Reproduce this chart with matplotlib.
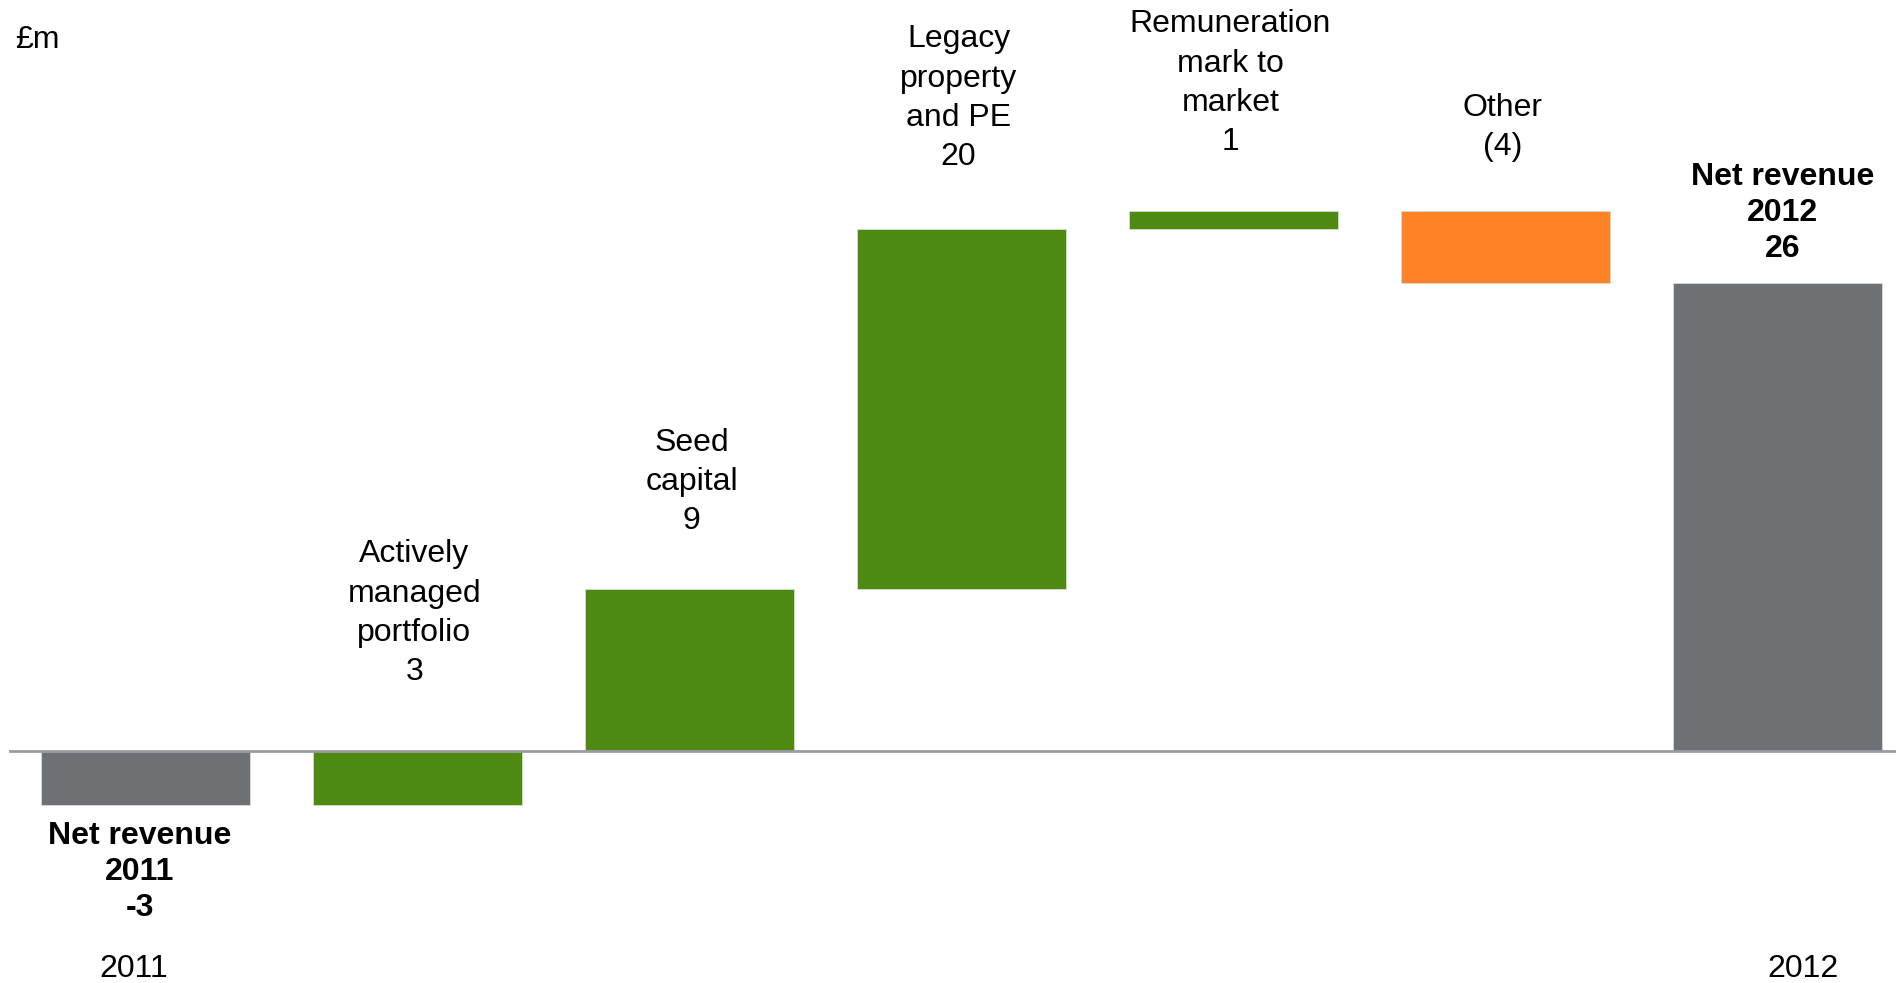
import matplotlib
matplotlib.use("Agg")
import matplotlib.pyplot as plt

plt.rcParams['font.family'] = ['Liberation Sans', 'DejaVu Sans']

# Waterfall data (£m)
categories = ["Net revenue\n2011", "Actively\nmanaged\nportfolio", "Seed\ncapital",
              "Legacy\nproperty\nand PE", "Remuneration\nmark to\nmarket", "Other",
              "Net revenue\n2012"]
values = [-3, 3, 9, 20, 1, -4, 26]
value_text = ["-3", "3", "9", "20", "1", "(4)", "26"]
kinds = ["total", "step", "step", "step", "step", "step", "total"]
period_labels = ["2011", "2012"]

GREY = "#6d7174"
GREEN = "#4e8a12"
ORANGE = "#ff8326"

W, H, DPI = 1896, 983, 100
fig = plt.figure(figsize=(W / DPI, H / DPI), dpi=DPI)
ax = fig.add_axes([0, 0, 1, 1])

# scale: bar pitch 272 px, 18 px per £m, zero line 751 px from top
x0_px, pitch = 145.5, 272.0
zero_px, unit = 751.0, 18.0
ax.set_xlim(-x0_px / pitch, (W - x0_px) / pitch)
ax.set_ylim(-(H - zero_px) / unit, zero_px / unit)
ax.axis("off")

bar_w = 0.77
running = 0
tops = []
for i, (v, k) in enumerate(zip(values, kinds)):
    if k == "total":
        bottom, height = 0, v
        color = GREY
        running = v
    else:
        bottom, height = running, v
        color = GREEN if v >= 0 else ORANGE
        running += v
    ax.bar(i, height, bottom=bottom, width=bar_w, color=color,
           edgecolor="#d8dbd6", linewidth=0.6, zorder=2)
    tops.append(max(bottom, bottom + height))

# zero baseline
ax.axhline(0, xmin=10 / W, xmax=1, color="#9b9ba8", linewidth=2, zorder=3)

# labels above/below bars (offset in px from the bar edge to the text block)
label_gap = [None, 64, 53, 57, 54, 49, 19]
label_dx = [-6, -3, 2, -3, -3, -3, 5]
fs = 23
for i, (cat, vt, k) in enumerate(zip(categories, value_text, kinds)):
    txt = f"{cat}\n{vt}"
    bold = (k == "total")
    if i == 0:
        ax.annotate(txt, xy=(i, values[0]), xytext=(label_dx[i], -16),
                    textcoords="offset pixels", ha="center", va="top",
                    fontsize=fs, fontweight="bold", linespacing=1.27)
    else:
        ax.annotate(txt, xy=(i, tops[i]), xytext=(label_dx[i], label_gap[i]),
                    textcoords="offset pixels", ha="center", va="bottom",
                    fontsize=fs, fontweight="bold" if bold else "normal",
                    linespacing=1.27 if bold else 1.4)

# period labels
ax.text(-0.045, -12.13, period_labels[0], ha="center", va="center", fontsize=fs)
ax.text(6.095, -12.13, period_labels[1], ha="center", va="center", fontsize=fs)

# unit
fig.text(15 / W, 1 - 40 / H, "£m", ha="left", va="center", fontsize=fs)

fig.savefig("out.png", dpi=DPI, facecolor="white")
